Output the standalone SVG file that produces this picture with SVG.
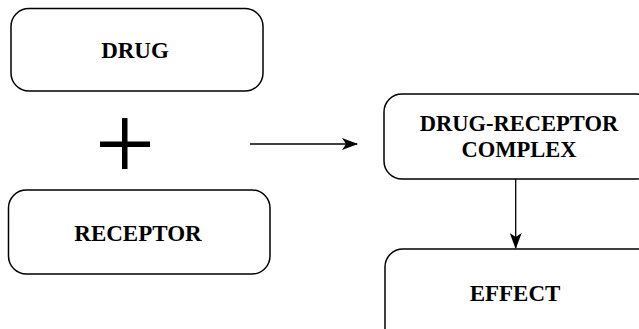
<svg xmlns="http://www.w3.org/2000/svg" width="639" height="329" viewBox="0 0 639 329">
  <style>
    .box { fill: #ffffff; stroke: #000000; stroke-width: 1.5; }
    .label { font-family: "Liberation Serif", "Times New Roman", serif; font-weight: bold; font-size: 23px; fill: #000000; text-anchor: middle; }
    .wire { stroke: #000000; stroke-width: 1.3; fill: none; }
  </style>
  <defs>
    <marker id="head" viewBox="0 0 16 12" refX="15" refY="6" markerWidth="16" markerHeight="12" markerUnits="userSpaceOnUse" orient="auto">
      <path d="M0,0 L16,6 L0,12 L4,6 Z" fill="#000000"/>
    </marker>
  </defs>
  <rect width="639" height="329" fill="#ffffff"/>

  <g id="drug">
    <rect class="box" x="11" y="8.5" width="252" height="82.5" rx="18" ry="18"/>
    <text class="label" x="135" y="57.5">DRUG</text>
  </g>

  <g id="plus">
    <rect x="122" y="118" width="5.5" height="51" fill="#000000"/>
    <rect x="100" y="141.5" width="50" height="5.5" fill="#000000"/>
  </g>

  <g id="receptor">
    <rect class="box" x="8.5" y="190" width="261.5" height="84" rx="18" ry="18"/>
    <text class="label" x="138" y="240.5">RECEPTOR</text>
  </g>

  <g id="complex">
    <rect class="box" x="384" y="94" width="270" height="85" rx="18" ry="18"/>
    <text class="label" x="519" y="130.5" style="font-size:22.5px">DRUG-RECEPTOR</text>
    <text class="label" x="519" y="157" style="font-size:22.5px">COMPLEX</text>
  </g>

  <g id="effect">
    <rect class="box" x="385" y="249" width="270" height="100" rx="18" ry="18"/>
    <text class="label" x="515" y="300.5">EFFECT</text>
  </g>

  <g id="connectors">
    <line class="wire" x1="250" y1="144" x2="357" y2="144" marker-end="url(#head)"/>
    <line class="wire" x1="515.7" y1="179" x2="515.7" y2="248" marker-end="url(#head)"/>
  </g>
</svg>
